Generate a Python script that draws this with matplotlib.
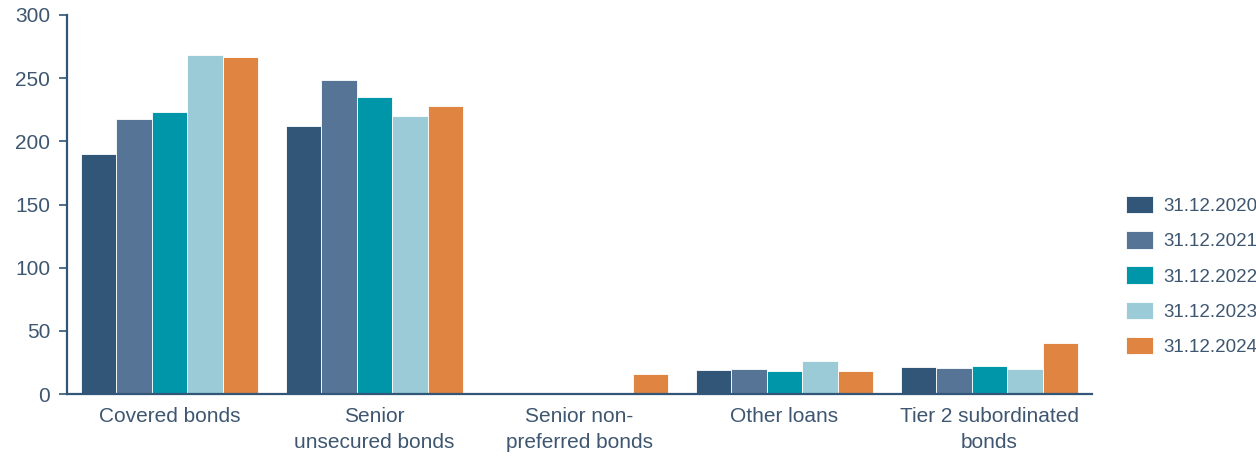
import matplotlib
matplotlib.use("Agg")
import matplotlib.pyplot as plt
import numpy as np

categories = ["Covered bonds", "Senior\nunsecured bonds", "Senior non-\npreferred bonds",
              "Other loans", "Tier 2 subordinated\nbonds"]
series_labels = ["31.12.2020", "31.12.2021", "31.12.2022", "31.12.2023", "31.12.2024"]
values_2020 = [189.6, 211.8, 0, 19.2, 21.6]
values_2021 = [217.6, 248.2, 0, 19.8, 20.8]
values_2022 = [223.1, 235.2, 0, 18.2, 21.9]
values_2023 = [268.0, 219.9, 0, 26.1, 19.8]
values_2024 = [266.9, 227.8, 16.0, 18.0, 40.1]
series_values = [values_2020, values_2021, values_2022, values_2023, values_2024]
colors = ["#325677", "#557496", "#0096AA", "#9BCBD6", "#E08442"]
yticks = [0, 50, 100, 150, 200, 250, 300]

text_color = "#3E5670"
axis_color = "#325677"

plt.rcParams["font.family"] = ["Liberation Sans", "DejaVu Sans"]

fig = plt.figure(figsize=(12.56, 4.58), dpi=100)
ax = fig.add_axes([67 / 1256, 1 - 394 / 458, (1092 - 67) / 1256, (394 - 15) / 458])

n = len(series_values)
x = np.arange(len(categories))
group_w = 0.863
bar_w = group_w / n
for i, (vals, lab, col) in enumerate(zip(series_values, series_labels, colors)):
    offs = -group_w / 2 + bar_w * (i + 0.5)
    ax.bar(x + offs, vals, width=bar_w, color=col, label=lab,
           edgecolor="white", linewidth=0.6)

ax.set_xlim(-0.5, len(categories) - 0.5)
ax.set_ylim(0, 300)
ax.set_yticks(yticks)
ax.set_yticklabels([str(v) for v in yticks], fontsize=15, color=text_color)
ax.set_xticks(x)
ax.set_xticklabels(categories, fontsize=15, color=text_color, linespacing=1.5)

for s in ["top", "right"]:
    ax.spines[s].set_visible(False)
for s in ["left", "bottom"]:
    ax.spines[s].set_color(axis_color)
    ax.spines[s].set_linewidth(1.6)
ax.tick_params(axis="y", length=6, width=1.2, color=axis_color, pad=6)
ax.tick_params(axis="x", length=0, pad=9)

leg = ax.legend(loc="center left", bbox_to_anchor=(1126 / 1256, 1 - 276 / 458),
                bbox_transform=fig.transFigure, frameon=False, fontsize=13.5,
                handlelength=1.45, handleheight=1.05, handletextpad=0.55,
                labelspacing=0.86, borderpad=0, borderaxespad=0)
for t in leg.get_texts():
    t.set_color(text_color)

fig.savefig("out.png", dpi=100)
